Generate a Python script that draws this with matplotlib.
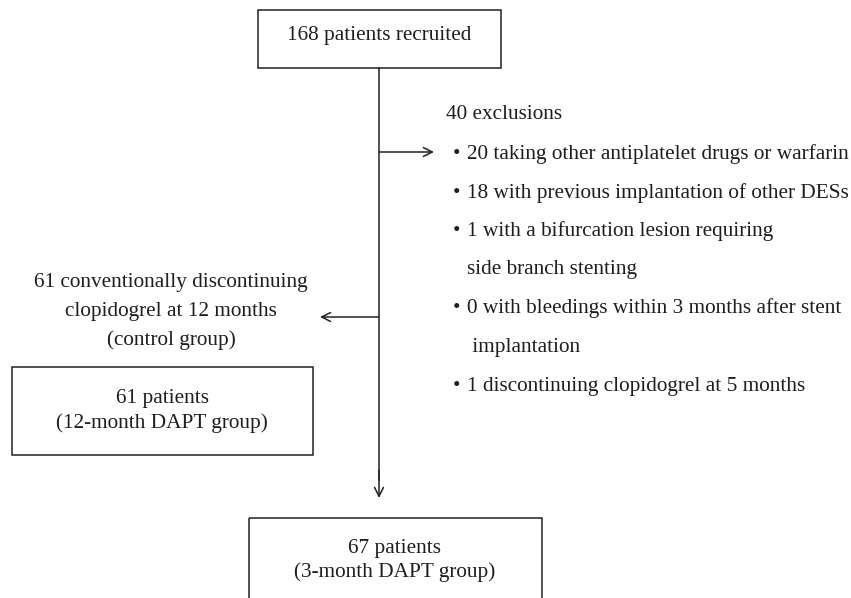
import matplotlib.pyplot as plt
from matplotlib.patches import Rectangle

# flowchart content
top_label = "168 patients recruited"
excl_title = "40 exclusions"
excl_lines = [
    "20 taking other antiplatelet drugs or warfarin",
    "18 with previous implantation of other DESs",
    "1 with a bifurcation lesion requiring",
    "side branch stenting",
    "0 with bleedings within 3 months after stent",
    " implantation",
    "1 discontinuing clopidogrel at 5 months",
]
excl_bullet = [True, True, True, False, True, False, True]
excl_y = [159, 198, 236, 274, 313, 352, 391]
left_label = ["61 conventionally discontinuing", "clopidogrel at 12 months", "(control group)"]
left_y = [287, 316, 345]
left_box_label = ["61 patients", "(12-month DAPT group)"]
bottom_box_label = ["67 patients", "(3-month DAPT group)"]

W, H = 851, 598
fig = plt.figure(figsize=(W / 100, H / 100), dpi=100)
ax = fig.add_axes([0, 0, 1, 1])
ax.set_xlim(0, W)
ax.set_ylim(H, 0)
ax.axis("off")

font = dict(family="Liberation Serif", fontsize=15.3, color="#1e1e1e")
lw = 1.1


def box(x0, y0, x1, y1):
    ax.add_patch(Rectangle((x0, y0), x1 - x0, y1 - y0, fill=False,
                           edgecolor="#222222", linewidth=lw))


def arrow(x0, y0, x1, y1):
    ax.annotate("", xy=(x1, y1), xytext=(x0, y0),
                arrowprops=dict(arrowstyle="->", color="#222222", lw=lw,
                                mutation_scale=16, shrinkA=0, shrinkB=0))


# boxes
box(258, 10, 501, 68)
ax.text(379, 40, top_label, ha="center", va="baseline", **font)

box(12, 367, 313, 455)
for i, s in enumerate(left_box_label):
    ax.text(162, 403 + 25 * i, s, ha="center", va="baseline", **font)

box(249, 518, 542, 640)
for i, s in enumerate(bottom_box_label):
    ax.text(395, 553 + 24 * i, s, ha="center", va="baseline", **font)

# main line and arrows
ax.plot([379, 379], [68, 480], color="#222222", lw=lw)
arrow(379, 470, 379, 498)
arrow(379, 152, 434, 152)
arrow(379, 317, 320, 317)

# exclusions
ax.text(446, 119, excl_title, ha="left", va="baseline", **font)
for s, y, b in zip(excl_lines, excl_y, excl_bullet):
    if b:
        ax.text(457, y, "\u2022", ha="center", va="baseline", **font)
    ax.text(467, y, s, ha="left", va="baseline", **font)

# control group label
for s, y in zip(left_label, left_y):
    ax.text(171, y, s, ha="center", va="baseline", **font)

fig.savefig("out.png", dpi=100)
